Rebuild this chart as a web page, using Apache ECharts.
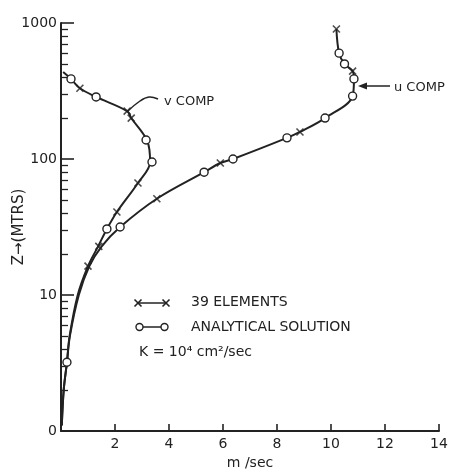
<!DOCTYPE html>
<html>
<head>
<meta charset="utf-8">
<script src="https://cdn.jsdelivr.net/npm/echarts@6/dist/echarts.min.js"></script>
<style>
    html, body { margin: 0; padding: 0; background: #fff; }
    #chart { width: 458px; height: 472px; }
</style>
</head>
<body>
<div id="chart"></div>
<script>
// velocity (m/sec) vs height Z (m)
const vCurve = [[0.03, 1.1], [0.1, 2], [0.22, 3.2], [0.32, 5], [0.62, 10], [1.0, 16.3], [1.37, 22.7], [1.7, 30.6],
    [2.07, 40.8], [2.85, 66.6], [3.3, 95], [3.2, 135], [2.6, 200], [2.45, 225], [1.3, 286], [0.7, 331], [0.37, 388], [0.08, 436]];
const uCurve = [[0.03, 1.1], [0.1, 2], [0.22, 3.2], [0.33, 5], [0.66, 10], [1.05, 16.3], [1.5, 22.7], [2.19, 31.6],
    [3.55, 51], [5.3, 80], [5.9, 93.5], [6.37, 100], [8.37, 143], [8.85, 158], [9.78, 200], [10.8, 290],
    [10.85, 388], [10.8, 443], [10.5, 500], [10.3, 600], [10.2, 904]];

// 39 elements (crosses)
const vCross = [[1.0, 16.3], [1.4, 22.8], [2.07, 40.8], [2.85, 66.6], [2.6, 200], [2.45, 225], [0.7, 331]];
const uCross = [[3.55, 51], [5.9, 93.5], [8.85, 158], [10.8, 443], [10.2, 904]];
// analytical solution (circles)
const vCircle = [[0.22, 3.2], [1.7, 30.6], [3.37, 95], [3.15, 138], [1.3, 286], [0.37, 388]];
const uCircle = [[2.19, 31.6], [5.3, 80], [6.37, 100], [8.37, 143], [9.78, 200], [10.8, 290],
    [10.85, 388], [10.5, 500], [10.3, 600]];

const yMinorTicks = [2, 3, 4, 5, 6, 7, 8, 9, 20, 30, 40, 50, 60, 70, 80, 90, 200, 300, 400, 500, 600, 700, 800, 900];

const ink = '#222';
const font = 'DejaVu Sans';
const crossPath = 'path://M0,0L10,10M10,0L0,10';

let myChart = echarts.init(document.getElementById('chart'));

const lineSeries = (data) => ({
    type: 'line',
    data: data,
    smooth: 0.35,
    showSymbol: false,
    lineStyle: { color: ink, width: 2 },
    z: 2
});
const crossSeries = (data) => ({
    type: 'scatter',
    data: data,
    symbol: crossPath,
    symbolSize: 7,
    itemStyle: { color: ink, borderColor: ink, borderWidth: 1.6 },
    z: 3
});
const circleSeries = (data) => ({
    type: 'scatter',
    data: data,
    symbol: 'circle',
    symbolSize: 8,
    itemStyle: { color: '#fff', borderColor: ink, borderWidth: 1.4, opacity: 1 },
    z: 4
});

let option = {
    backgroundColor: '#fff',
    animation: false,
    grid: { left: 61, right: 19, top: 23, bottom: 41, outerBoundsMode: 'none', containLabel: false },
    xAxis: {
        type: 'value',
        min: 0,
        max: 14,
        interval: 2,
        name: 'm /sec',
        nameLocation: 'middle',
        nameGap: 25,
        nameMoveOverlap: false,
        nameTextStyle: { color: ink, fontFamily: font, fontSize: 14 },
        axisLine: { lineStyle: { color: ink, width: 2 } },
        axisTick: { inside: true, length: 7, lineStyle: { color: ink, width: 1.6 } },
        axisLabel: {
            color: ink, fontFamily: font, fontSize: 14, margin: 6,
            formatter: v => (v === 0 ? '' : String(v))
        },
        splitLine: { show: false }
    },
    yAxis: [
        {
            type: 'log',
            logBase: 10,
            min: 1,
            max: 1000,
            name: 'Z\u2192(MTRS)',
            nameLocation: 'middle',
            nameGap: 34,
            nameRotate: 90,
            nameMoveOverlap: false,
            nameTextStyle: { color: ink, fontFamily: font, fontSize: 15 },
            axisLine: { lineStyle: { color: ink, width: 2 } },
            axisTick: { inside: true, length: 13, lineStyle: { color: ink, width: 1.6 } },
            axisLabel: {
                color: ink, fontFamily: font, fontSize: 14, margin: 4,
                formatter: v => (Math.round(v) === 1 ? '0' : String(Math.round(v)))
            },
            splitLine: { show: false }
        },
        {
            type: 'log',
            logBase: 10,
            min: 1,
            max: 1000,
            position: 'left',
            axisLine: { show: false },
            axisTick: { inside: true, length: 7, customValues: yMinorTicks, lineStyle: { color: ink, width: 1.3 } },
            axisLabel: { show: false },
            splitLine: { show: false }
        }
    ],
    graphic: [
        // v COMP leader
        { type: 'polyline', shape: { points: [[128, 111], [140, 101], [149, 97], [158, 99]], smooth: 0.4 },
          style: { stroke: ink, lineWidth: 1.5, fill: null } },
        { type: 'text', x: 164, y: 102, style: { text: 'v COMP', fill: ink, font: '13px "DejaVu Sans"', verticalAlign: 'middle' } },
        // u COMP arrow
        { type: 'line', shape: { x1: 390, y1: 86, x2: 364, y2: 86 }, style: { stroke: ink, lineWidth: 1.5 } },
        { type: 'polygon', shape: { points: [[358, 86], [367, 82.5], [367, 89.5]] }, style: { fill: ink } },
        { type: 'text', x: 394, y: 88, style: { text: 'u COMP', fill: ink, font: '13px "DejaVu Sans"', verticalAlign: 'middle' } },
        // legend
        { type: 'line', shape: { x1: 138, y1: 303, x2: 166, y2: 303 }, style: { stroke: ink, lineWidth: 1.5 } },
        { type: 'polyline', shape: { points: [[134.5, 299.5], [141.5, 306.5]] }, style: { stroke: ink, lineWidth: 1.6 } },
        { type: 'polyline', shape: { points: [[134.5, 306.5], [141.5, 299.5]] }, style: { stroke: ink, lineWidth: 1.6 } },
        { type: 'polyline', shape: { points: [[162.5, 299.5], [169.5, 306.5]] }, style: { stroke: ink, lineWidth: 1.6 } },
        { type: 'polyline', shape: { points: [[162.5, 306.5], [169.5, 299.5]] }, style: { stroke: ink, lineWidth: 1.6 } },
        { type: 'line', shape: { x1: 143, y1: 327, x2: 161, y2: 327 }, style: { stroke: ink, lineWidth: 1.5 } },
        { type: 'circle', shape: { cx: 139.5, cy: 327, r: 3.5 }, style: { fill: '#fff', stroke: ink, lineWidth: 1.4 } },
        { type: 'circle', shape: { cx: 164.5, cy: 327, r: 3.5 }, style: { fill: '#fff', stroke: ink, lineWidth: 1.4 } },
        { type: 'text', x: 191, y: 302, style: { text: '39 ELEMENTS', fill: ink, font: '14px "DejaVu Sans"', verticalAlign: 'middle' } },
        { type: 'text', x: 191, y: 327, style: { text: 'ANALYTICAL SOLUTION', fill: ink, font: '14px "DejaVu Sans"', verticalAlign: 'middle' } },
        { type: 'text', x: 139, y: 352, style: { text: 'K = 10\u2074 cm\u00b2/sec', fill: ink, font: '14px "DejaVu Sans"', verticalAlign: 'middle' } }
    ],
    series: [
        lineSeries(vCurve),
        lineSeries(uCurve),
        crossSeries(vCross),
        crossSeries(uCross),
        circleSeries(vCircle),
        circleSeries(uCircle)
    ]
};

option && myChart.setOption(option);
</script>
</body>
</html>
